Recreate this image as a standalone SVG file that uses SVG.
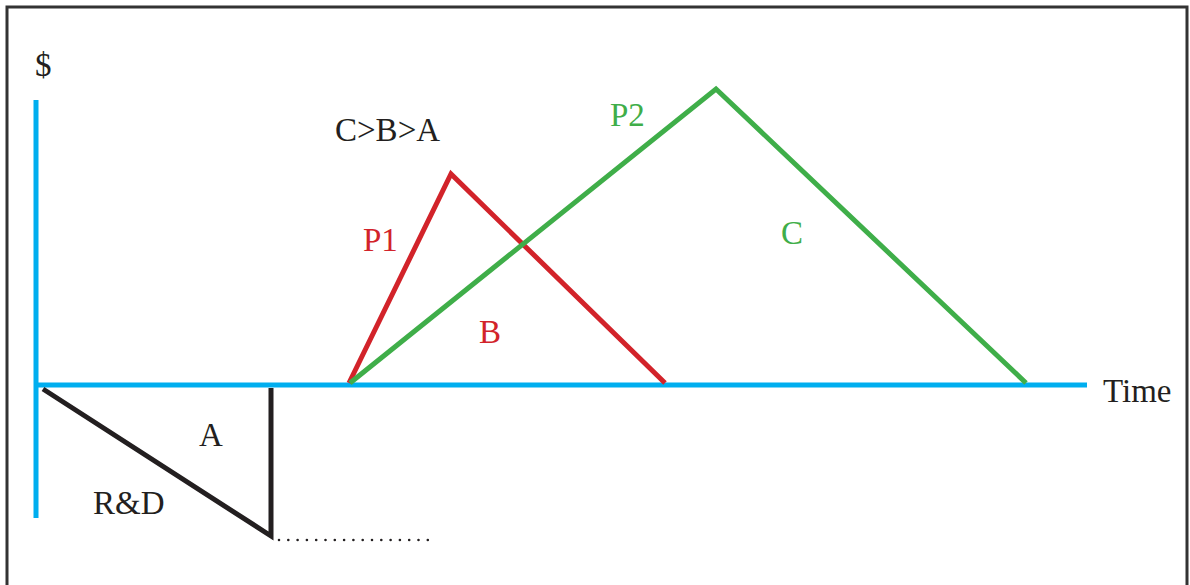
<svg xmlns="http://www.w3.org/2000/svg" width="1190" height="585" viewBox="0 0 1190 585">
<style>
.t{font-family:"Liberation Serif","DejaVu Serif",serif;font-size:33px}
.k{fill:#231f20}.r{fill:#d2232a}.g{fill:#3fae49}
.ln{fill:none;stroke-width:5;stroke-linejoin:miter}
</style>
<rect width="1190" height="585" fill="#fff"/>
<path d="M7 585V7H1187V585" fill="none" stroke="#333" stroke-width="3"/>
<g id="axes">
<line x1="36" y1="100" x2="36" y2="518" stroke="#00aeef" stroke-width="5"/>
<line x1="34" y1="385" x2="1087" y2="385" stroke="#00aeef" stroke-width="5"/>
</g>
<g id="connectors">
<polyline id="rd" class="ln" stroke="#231f20" points="43,389 271,536 271,388"/>
<line x1="279" y1="540" x2="428" y2="540" stroke="#231f20" stroke-width="2.6" stroke-linecap="round" stroke-dasharray="0 9.3"/>
<polyline id="p1" class="ln" stroke="#d2232a" points="349,383 451,174 665,383"/>
<polyline id="p2" class="ln" stroke="#3fae49" points="350,383 716,89 1026,383"/>
</g>
<g id="labels">
<text class="t k" x="35" y="76">$</text>
<text class="t k" x="335" y="141">C&gt;B&gt;A</text>
<text class="t g" x="610" y="126">P2</text>
<text class="t r" x="363" y="251">P1</text>
<text class="t r" x="479" y="343">B</text>
<text class="t g" x="781" y="244">C</text>
<text class="t k" x="199" y="446">A</text>
<text class="t k" x="93" y="514">R&amp;D</text>
<text class="t k" x="1103" y="402">Time</text>
</g>
</svg>
